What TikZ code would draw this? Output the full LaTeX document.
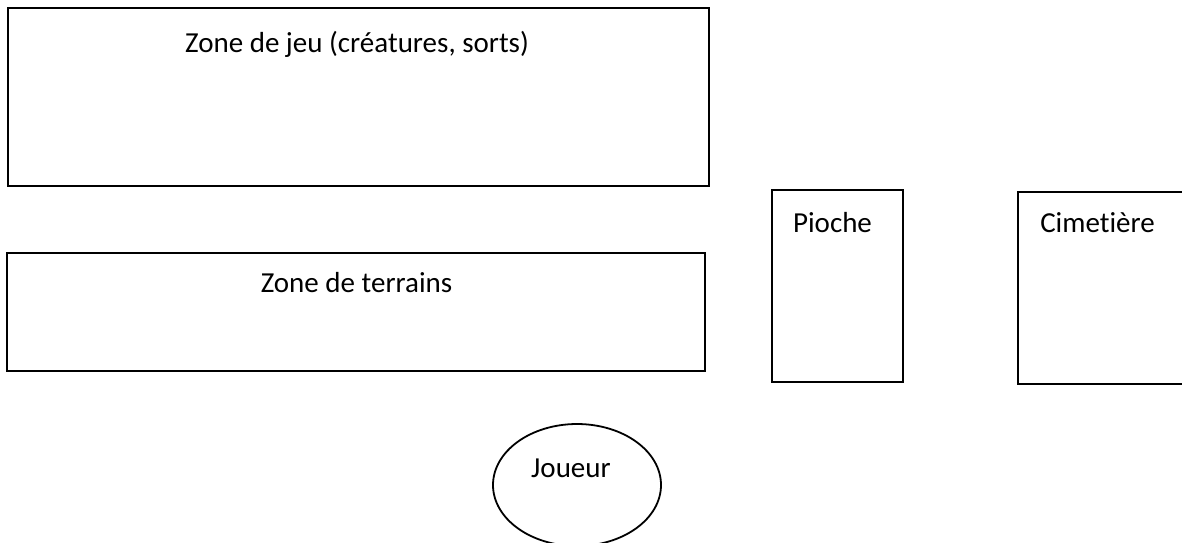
\documentclass[tikz,border=0pt]{standalone}
\usepackage{fontspec}
\setmainfont[Ligatures=NoCommon]{Carlito}
\usetikzlibrary{shapes.geometric}
\begin{document}
\begin{tikzpicture}[x=1pt,y=-1pt,
  zone/.style={draw=black, line width=1.8pt, rectangle, inner sep=0pt},
  lbl/.style={font=\fontsize{29}{34}\selectfont, inner sep=0pt, anchor=base},
  ell/.style={draw=black, line width=1.8pt, ellipse, inner sep=0pt}]
\useasboundingbox (0,0) rectangle (1182,542);
\clip (0,0) rectangle (1182,542);
\fill[white] (0,0) rectangle (1182,542);
% boxes
\node[zone, minimum width=701pt, minimum height=178pt] (jeu) at (358.5,97) {};
\node[zone, minimum width=698pt, minimum height=118pt] (terrains) at (356,312) {};
\node[zone, minimum width=131pt, minimum height=192pt] (pioche) at (837.5,286) {};
\node[zone, minimum width=180pt, minimum height=192pt] (cimetiere) at (1108,288) {};
\node[ell, minimum width=168pt, minimum height=122pt] (joueur) at (577,485) {};
% labels
\node[lbl] (tjeu) at (357,52) {Zone de jeu (créatures, sorts)};
\node[lbl] (tterrains) at (356.5,292) {Zone de terrains};
\node[lbl] (tpioche) at (832.5,232) {Pioche};
\node[lbl] (tcimetiere) at (1097.5,232) {Cimetière};
\node[lbl] (tjoueur) at (571,477) {Joueur};
\end{tikzpicture}
\end{document}
